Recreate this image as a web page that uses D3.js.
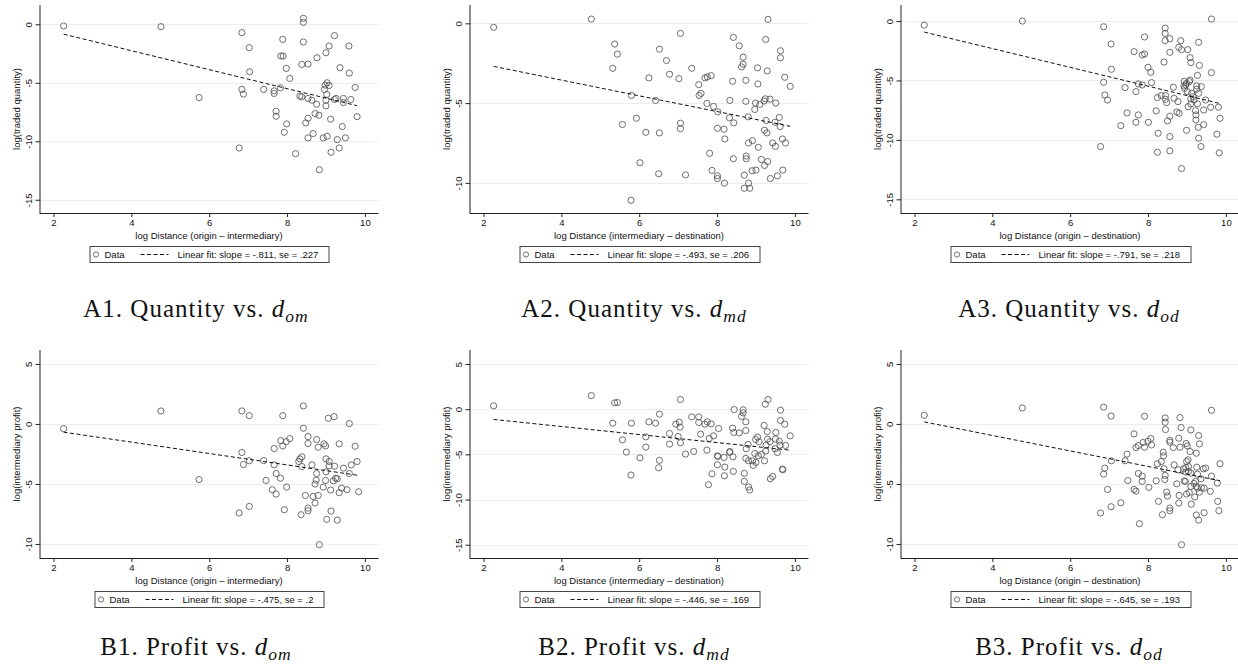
<!DOCTYPE html>
<html>
<head>
<meta charset="utf-8">
<script src="https://cdn.jsdelivr.net/npm/d3@7"></script>
<style>
  body { margin: 0; background: #fff; }
  svg { display: block; }
  .sans { font-family: "Liberation Sans", Arial, Helvetica, sans-serif; }
  .serif { font-family: "Liberation Serif", "Times New Roman", serif; }
</style>
</head>
<body>
<svg id="fig" width="1238" height="671"></svg>
<script>
// ---- Observations: log distance (x) and outcome (y) per panel ----
const a1X = [2.26,4.76,5.74,6.84,6.84,6.88,7.03,7.04,6.77,7.40,7.67,7.67,7.72,7.72,7.83,7.84,7.90,7.89,7.98,7.99,7.93,8.07,8.22,8.33,8.38,8.38,8.42,8.42,8.42,8.54,8.54,8.54,8.54,8.48,8.64,8.67,8.72,8.76,8.77,8.82,8.83,8.93,8.96,8.98,9.00,9.00,9.00,9.02,9.03,9.03,9.08,9.08,9.12,9.13,9.22,9.22,9.26,9.29,9.34,9.36,9.42,9.45,9.45,9.50,9.59,9.60,9.64,9.75,9.80];
const a1Y = [-0.14,-0.20,-6.26,-0.71,-5.57,-5.97,-2.00,-4.06,-10.57,-5.57,-5.69,-5.91,-7.43,-7.86,-5.43,-2.71,-2.71,-1.29,-3.77,-8.51,-9.23,-4.63,-11.06,-6.14,-6.20,-3.43,0.51,0.17,-1.51,-3.40,-6.34,-8.03,-9.71,-8.43,-6.49,-9.34,-7.63,-6.83,-2.86,-7.77,-12.43,-9.71,-5.57,-5.20,-2.43,-6.49,-6.97,-6.00,-5.00,-9.57,-5.23,-1.86,-8.11,-10.94,-0.97,-6.43,-6.34,-9.86,-10.57,-3.71,-8.74,-6.34,-6.69,-9.71,-1.86,-4.17,-6.43,-5.40,-7.89];

const a2X = [2.26,4.77,5.37,5.44,5.32,5.57,5.79,5.80,5.93,6.02,6.17,6.25,6.42,6.52,6.52,6.50,6.70,6.78,7.02,7.06,7.06,7.06,7.19,7.35,7.53,7.54,7.59,7.69,7.75,7.85,7.74,7.81,7.87,7.91,8.02,8.01,8.01,8.01,8.18,8.20,8.19,8.33,8.32,8.40,8.42,8.43,8.42,8.57,8.63,8.67,8.67,8.74,8.74,8.70,8.70,8.75,8.75,8.80,8.81,8.81,8.84,8.91,8.90,8.97,8.99,9.00,9.04,9.05,9.06,9.10,9.14,9.21,9.24,9.25,9.22,9.22,9.26,9.28,9.29,9.30,9.31,9.36,9.37,9.43,9.49,9.50,9.51,9.55,9.60,9.62,9.63,9.63,9.68,9.69,9.74,9.76,9.88];
const a2Y = [-0.25,0.27,-1.30,-1.93,-2.82,-6.34,-11.09,-4.52,-5.95,-8.74,-6.83,-3.42,-4.83,-1.62,-6.87,-9.43,-2.33,-3.19,-3.47,-0.63,-6.26,-6.60,-9.50,-2.82,-3.84,-4.52,-4.39,-3.42,-3.36,-3.28,-5.02,-8.15,-9.22,-5.21,-5.55,-6.58,-9.56,-9.73,-6.64,-7.25,-10.02,-4.83,-5.92,-3.63,-0.88,-6.24,-8.49,-1.41,-2.73,-2.12,-2.56,-3.57,-4.89,-9.52,-10.34,-8.32,-8.49,-5.86,-7.50,-10.02,-10.34,-7.35,-9.24,-5.40,-5.00,-9.20,-2.79,-3.80,-7.77,-5.08,-8.53,-4.87,-4.73,-1.01,-6.70,-8.91,-6.09,-6.87,-2.98,-8.66,0.25,-4.75,-9.73,-7.50,-6.20,-7.71,-5.00,-9.56,-5.90,-6.47,-1.72,-2.16,-7.25,-9.20,-3.38,-7.50,-3.95];

const a3X = [2.25,4.77,6.86,6.86,6.89,6.96,6.78,7.05,7.06,7.30,7.41,7.46,7.64,7.69,7.69,7.75,7.75,7.85,7.91,7.91,7.85,8.00,8.01,8.07,8.09,8.21,8.24,8.26,8.24,8.34,8.41,8.44,8.44,8.44,8.45,8.45,8.48,8.50,8.56,8.56,8.56,8.56,8.56,8.65,8.67,8.77,8.74,8.80,8.79,8.84,8.86,8.86,8.92,8.93,8.94,8.97,8.99,8.99,9.02,9.01,9.03,9.06,9.08,9.08,9.10,9.10,9.12,9.10,9.16,9.18,9.22,9.23,9.23,9.25,9.25,9.27,9.27,9.29,9.30,9.30,9.32,9.30,9.37,9.36,9.43,9.43,9.48,9.61,9.63,9.63,9.77,9.81,9.83,9.85];
const a3Y = [-0.34,0.00,-0.48,-5.15,-6.22,-6.64,-10.56,-1.93,-4.06,-8.80,-5.60,-7.73,-2.58,-5.94,-8.52,-5.29,-7.90,-2.86,-2.77,-1.34,-5.38,-3.89,-8.52,-4.31,-5.18,-7.56,-6.44,-9.44,-11.04,-6.27,-3.45,-0.59,-1.04,-1.65,-6.27,-6.58,-6.86,-8.40,-1.48,-2.63,-8.01,-9.72,-10.92,-5.57,-6.50,-6.78,-7.65,-7.76,-2.21,-1.65,-2.41,-12.41,-5.46,-5.07,-5.66,-5.38,-5.24,-9.19,-2.41,-5.94,-7.20,-5.10,-4.96,-3.08,-3.50,-6.55,-6.08,-6.97,-6.36,-6.64,-7.54,-7.90,-8.32,-5.46,-5.74,-4.57,-6.97,-8.94,-9.86,-1.79,-3.73,-6.08,-5.52,-10.56,-7.48,-8.71,-6.64,-7.25,-4.34,0.17,-9.52,-7.25,-11.09,-8.18];

const b1X = [2.26,4.76,5.74,6.84,7.03,6.84,6.88,7.03,7.03,6.77,7.40,7.46,7.67,7.67,7.62,7.72,7.72,7.83,7.84,7.89,7.89,7.98,7.99,7.93,8.07,8.30,8.33,8.38,8.38,8.42,8.42,8.36,8.54,8.54,8.54,8.54,8.47,8.64,8.67,8.72,8.76,8.76,8.75,8.72,8.80,8.80,8.83,8.93,8.95,8.99,9.00,9.00,8.99,9.02,9.06,9.08,9.08,9.12,9.13,9.19,9.21,9.22,9.25,9.29,9.29,9.34,9.34,9.40,9.45,9.54,9.60,9.60,9.65,9.75,9.80,9.84];
const b1Y = [-0.39,1.08,-4.63,1.08,0.69,-2.38,-3.38,-3.07,-6.87,-7.42,-3.05,-4.71,-2.05,-3.41,-5.48,-4.13,-5.84,-4.52,-1.39,-1.83,0.69,-1.47,-5.26,-7.15,-1.22,-3.13,-2.91,-2.74,-3.55,1.50,-0.36,-7.56,-1.05,-1.63,-7.01,-7.23,-5.96,-3.41,-6.04,-6.59,-4.13,-1.30,-4.68,-5.01,-5.96,-1.94,-10.06,-5.26,-1.66,-1.83,-2.91,-3.99,-4.71,-7.95,0.47,-3.13,-3.49,-5.51,-7.26,-4.74,0.61,-3.52,-4.52,-4.57,-8.01,-1.66,-5.73,-5.35,-3.68,-5.48,0.03,-4.13,-3.41,-1.86,-3.13,-5.65];

const b2X = [2.26,4.77,5.37,5.44,5.32,5.57,5.67,5.79,5.80,6.02,6.17,6.17,6.25,6.42,6.52,6.52,6.50,6.78,6.78,6.94,7.00,7.03,7.05,7.06,7.06,7.19,7.35,7.40,7.53,7.53,7.58,7.69,7.75,7.85,7.74,7.78,7.87,7.80,7.91,8.04,8.01,8.02,8.01,8.18,8.20,8.19,8.33,8.32,8.40,8.43,8.44,8.41,8.42,8.57,8.63,8.67,8.67,8.74,8.74,8.70,8.70,8.75,8.74,8.80,8.81,8.81,8.84,8.91,8.93,8.97,8.99,9.00,9.04,9.06,9.08,9.14,9.21,9.24,9.22,9.25,9.26,9.29,9.30,9.31,9.36,9.37,9.43,9.49,9.51,9.50,9.55,9.60,9.62,9.63,9.63,9.68,9.69,9.74,9.76,9.88];
const b2Y = [0.37,1.51,0.70,0.74,-1.55,-3.39,-4.75,-7.29,-1.55,-5.38,-3.06,-4.20,-1.40,-1.55,-0.55,-5.67,-6.48,-2.69,-3.87,-1.66,-3.02,-1.44,-1.99,1.07,-3.72,-4.97,-0.85,-4.68,-0.85,-1.47,-2.76,-1.66,-1.40,-1.62,-4.53,-8.36,-7.15,-3.24,-2.95,-2.14,-5.16,-5.23,-6.15,-5.34,-6.41,-7.37,-4.68,-4.79,-2.10,-2.58,-0.04,-5.27,-6.89,-2.62,-0.81,-0.07,-0.41,-1.40,-2.36,-7.11,-7.99,-4.38,-5.45,-3.90,-5.71,-8.62,-8.95,-5.71,-6.22,-4.90,-3.35,-5.89,-3.09,-5.16,-3.61,-5.01,-1.80,0.55,-5.71,-4.64,-3.98,-2.47,-3.31,1.07,-3.61,-7.70,-7.44,-4.38,-2.58,-3.31,-4.79,-3.54,-3.98,-0.11,-1.25,-6.63,-6.70,-1.66,-4.01,-2.95];

const b3X = [2.25,4.77,6.86,6.86,6.89,6.96,6.78,7.05,7.06,7.05,7.30,7.41,7.46,7.48,7.64,7.64,7.69,7.69,7.75,7.75,7.78,7.85,7.85,7.87,7.91,7.91,8.00,8.02,8.07,8.09,8.21,8.24,8.27,8.34,8.37,8.39,8.40,8.41,8.44,8.44,8.45,8.44,8.43,8.48,8.50,8.56,8.56,8.56,8.56,8.65,8.67,8.74,8.77,8.79,8.79,8.80,8.82,8.82,8.85,8.86,8.92,8.93,8.96,8.97,8.97,8.98,8.99,8.99,9.01,9.03,9.04,9.04,9.06,9.08,9.10,9.10,9.10,9.11,9.18,9.20,9.22,9.24,9.24,9.24,9.25,9.27,9.27,9.30,9.30,9.32,9.32,9.36,9.37,9.42,9.44,9.44,9.48,9.60,9.63,9.63,9.78,9.79,9.82,9.85];
const b3Y = [0.72,1.33,1.39,-4.18,-3.68,-5.46,-7.42,0.66,-3.07,-6.90,-6.57,-3.07,-2.52,-4.71,-0.83,-5.46,-5.60,-1.97,-1.80,-4.13,-8.31,-4.35,-4.79,-1.55,-1.94,0.64,-1.44,-5.29,-1.22,-1.75,-4.74,-3.32,-6.45,-3.13,-7.56,-2.35,-2.66,-3.74,0.50,0.14,-0.47,-4.29,-4.63,-5.68,-6.01,-1.36,-1.52,-7.01,-7.23,-1.97,-3.41,-4.99,-3.82,-1.19,-6.59,-5.96,-1.94,0.53,-0.30,-10.06,-3.74,-4.74,-4.79,-3.63,-4.02,-1.63,-3.13,-5.84,-1.83,-2.99,-3.55,-3.96,-5.71,-2.30,-0.50,-4.10,-5.21,-6.68,-4.96,-6.09,-4.79,-2.44,-5.21,-7.59,-3.60,-4.18,-5.35,-8.01,-0.97,-1.66,-5.68,-4.57,-5.32,-3.74,-5.35,-7.40,-3.68,-5.62,1.14,-4.35,-4.93,-6.45,-7.23,-3.32];

// ---- Linear fits (slope, standard error, intercept) ----
const fitSlopes = [-0.811, -0.493, -0.791, -0.475, -0.446, -0.645];
const fitSE = [".227", ".206", ".218", ".2", ".169", ".193"];
const fitIntercepts = [0.99, -1.585, 0.85, 0.386, -0.13, 1.62];

// ---- Axes ----
const xTicks = [2, 4, 6, 8, 10];
const xExtent = [1.64, 10.35];
const yTicksQ1 = [0, -5, -10, -15];
const yTicksQ2 = [0, -5, -10];
const yTicksQ3 = [0, -5, -10, -15];
const yTicksP1 = [5, 0, -5, -10];
const yTicksP2 = [5, 0, -5, -10, -15];
const yTicksP3 = [5, 0, -5, -10];
const yExtents = [[-16.13, 1.65], [-11.89, 1.15], [-16.15, 1.35], [-11.17, 6.16], [-16.47, 6.55], [-11.17, 6.16]];

const xTitles = ["log Distance (origin \u2013 intermediary)", "log Distance (intermediary \u2013 destination)", "log Distance (origin \u2013 destination)"];
const yTitles = ["log(traded quantity)", "log(intermediary profit)"];
const captionLabels = ["A1. Quantity vs. ", "A2. Quantity vs. ", "A3. Quantity vs. ", "B1. Profit vs. ", "B2. Profit vs. ", "B3. Profit vs. "];
const captionSubs = ["om", "md", "od", "om", "md", "od"];

// plain hyphen-minus, as in the axis labels of the original graphs
const fmtTick = d => String(d);
const fmtCoef = v => (v < 0 ? "-" : "") + Math.abs(v).toFixed(3).replace(/^0/, "");

// ---- Layout ----
const svg = d3.select("#fig");
const W = 339, H = 208;
const colLeft = [39.5, 469.5, 900.5];
const rowTop = [5, 350];
const captionX = [196, 634, 1069];
const captionY = [317, 655];

const panels = [
  { xs: a1X, ys: a1Y, yt: yTicksQ1 },
  { xs: a2X, ys: a2Y, yt: yTicksQ2 },
  { xs: a3X, ys: a3Y, yt: yTicksQ3 },
  { xs: b1X, ys: b1Y, yt: yTicksP1 },
  { xs: b2X, ys: b2Y, yt: yTicksP2 },
  { xs: b3X, ys: b3Y, yt: yTicksP3 }
];

const gridColor = "#e6eff1";
const axisColor = "#222";
const markerColor = "#555";

panels.forEach((p, i) => {
  const col = i % 3, row = Math.floor(i / 3);
  const left = colLeft[col], top = rowTop[row];
  const g = svg.append("g").attr("transform", `translate(${left},${top})`);

  const x = d3.scaleLinear().domain(xExtent).range([0, W]);
  const y = d3.scaleLinear().domain(yExtents[i]).range([H, 0]);

  // horizontal gridlines
  g.append("g").selectAll("line").data(p.yt).join("line")
    .attr("x1", 0).attr("x2", W)
    .attr("y1", d => Math.round(y(d)) + 0.5).attr("y2", d => Math.round(y(d)) + 0.5)
    .attr("stroke", gridColor).attr("stroke-width", 1);

  // y axis
  const yAxis = d3.axisLeft(y).tickValues(p.yt).tickSize(4).tickPadding(3).tickFormat(fmtTick);
  const ya = g.append("g").attr("class", "sans").call(yAxis);
  ya.select(".domain").attr("d", `M0.5,0V${H}`).attr("stroke", axisColor);
  ya.selectAll(".tick line").attr("stroke", axisColor).attr("x1", 0.5);
  ya.selectAll(".tick text")
    .attr("font-size", 9.5).attr("fill", "#111")
    .attr("x", null).attr("dy", null)
    .attr("text-anchor", "middle")
    .attr("transform", "translate(-8,0) rotate(-90)");

  // x axis
  const xAxis = d3.axisBottom(x).tickValues(xTicks).tickSize(4).tickPadding(3).tickFormat(fmtTick);
  const xa = g.append("g").attr("class", "sans").attr("transform", `translate(0,${H})`).call(xAxis);
  xa.select(".domain").attr("d", `M0,0.5H${W}`).attr("stroke", axisColor);
  xa.selectAll(".tick line").attr("stroke", axisColor);
  xa.selectAll(".tick text").attr("font-size", 9.5).attr("fill", "#111").attr("dy", null).attr("y", 13);

  // axis titles
  g.append("text").attr("class", "sans")
    .attr("x", W / 2).attr("y", H + 25.5)
    .attr("text-anchor", "middle").attr("font-size", 9.5).attr("fill", "#111")
    .text(xTitles[col]);
  g.append("text").attr("class", "sans")
    .attr("transform", `translate(-19.5,${H / 2}) rotate(-90)`)
    .attr("text-anchor", "middle").attr("font-size", 9.5).attr("fill", "#111")
    .text(yTitles[row]);

  // scatter points
  const pts = p.xs.map((v, k) => [v, p.ys[k]]);
  g.append("g").selectAll("circle").data(pts).join("circle")
    .attr("cx", d => x(d[0])).attr("cy", d => y(d[1])).attr("r", 3.1)
    .attr("fill", "none").attr("stroke", markerColor).attr("stroke-width", 0.85);

  // fitted line over the observed x range
  const [xmin, xmax] = d3.extent(p.xs);
  const fit = v => fitIntercepts[i] + fitSlopes[i] * v;
  g.append("path")
    .attr("d", d3.line()([[x(xmin), y(fit(xmin))], [x(xmax), y(fit(xmax))]]))
    .attr("stroke", "#111").attr("stroke-width", 1).attr("fill", "none")
    .attr("stroke-dasharray", "4,2.5");

  // legend
  const lg = g.append("g").attr("class", "sans");
  const ly = H + 33, lh = 16;
  const box = lg.append("rect").attr("y", ly + 0.5).attr("height", lh)
    .attr("fill", "#fff").attr("stroke", "#444").attr("stroke-width", 1);
  const inner = lg.append("g");
  inner.append("circle").attr("cx", 6.5).attr("cy", ly + lh / 2 + 0.5).attr("r", 2.6)
    .attr("fill", "none").attr("stroke", markerColor).attr("stroke-width", 0.85);
  inner.append("text").attr("x", 15).attr("y", ly + lh / 2 + 4)
    .attr("font-size", 9.5).attr("fill", "#111").text("Data");
  inner.append("line").attr("x1", 51).attr("x2", 79)
    .attr("y1", ly + lh / 2 + 0.5).attr("y2", ly + lh / 2 + 0.5)
    .attr("stroke", "#111").attr("stroke-width", 1).attr("stroke-dasharray", "4,2.5");
  const ft = inner.append("text").attr("x", 88).attr("y", ly + lh / 2 + 4)
    .attr("font-size", 9.5).attr("fill", "#111")
    .text(`Linear fit: slope = ${fmtCoef(fitSlopes[i])}, se = ${fitSE[i]}`);
  const bw = 88 + ft.node().getComputedTextLength() + 10;
  const bx = Math.round(W / 2 - bw / 2);
  box.attr("x", bx + 0.5).attr("width", Math.round(bw));
  inner.attr("transform", `translate(${bx},0)`);

  // caption
  const cap = svg.append("text").attr("class", "serif")
    .attr("x", captionX[col]).attr("y", captionY[row])
    .attr("text-anchor", "middle").attr("font-size", 25).attr("letter-spacing", 1).attr("fill", "#111");
  cap.append("tspan").text(captionLabels[i]);
  cap.append("tspan").attr("font-style", "italic").text("d");
  cap.append("tspan").attr("font-style", "italic").attr("font-size", 17.5).attr("dy", 5).text(captionSubs[i]);
});
</script>
</body>
</html>
